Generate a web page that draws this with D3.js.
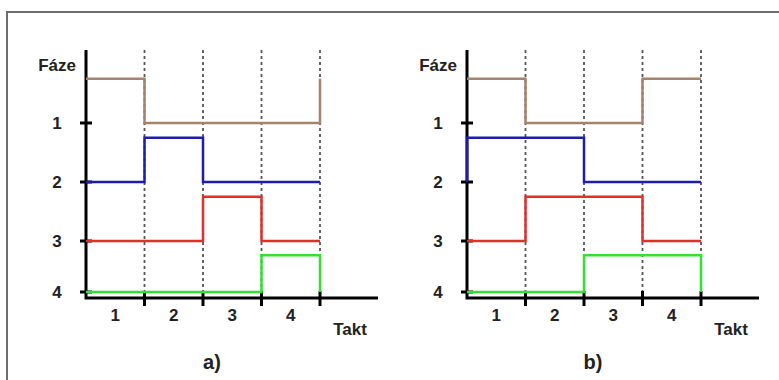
<!DOCTYPE html>
<html>
<head>
<meta charset="utf-8" />
<title>Fáze / Takt</title>
<script src="https://d3js.org/d3.v7.min.js"></script>
<style>
body { margin:0; background:#fff; }
text { font-family: "Liberation Sans", Arial, sans-serif; font-weight:bold; fill:#222; }
</style>
</head>
<body>
<div id="chart"></div>
<script>

// takt positions (cycle boundaries) and labels
var takty = [1, 2, 3, 4]
var faze = [1, 2, 3, 4]
var barvy = ["#a7826c", "#1c1cb0", "#e0302e", "#35e035"]

// each series: [entry, takt1, takt2, takt3, takt4, exit] in phase units
var a_hneda = [0.25, 0.25, 1, 1, 1, 0.25]
var a_modra = [2, 2, 1.25, 2, 2, 2]
var a_cervena = [3, 3, 3, 2.25, 3, 3]
var a_zelena = [4, 4, 4, 4, 3.28, 4]

var b_hneda = [0.25, 0.25, 1, 1, 0.25, 0.25]
var b_modra = [2, 1.25, 1.25, 2, 2, 2]
var b_cervena = [3, 3, 2.25, 2.25, 3, 3]
var b_zelena = [4, 4, 4, 3.28, 3.28, 4]

var panely = [
  {x0: 86, nazev: "a)", serie: [a_hneda, a_modra, a_cervena, a_zelena]},
  {x0: 467, nazev: "b)", serie: [b_hneda, b_modra, b_cervena, b_zelena]}
]

var W = 779, H = 380

var svg = d3.select("#chart").append("svg")
  .attr("width", W)
  .attr("height", H)

svg.append("rect").attr("width", W).attr("height", H).attr("fill", "#fff")

// outer frame (top + left only)
svg.append("path")
  .attr("d", "M7,380 L7,12 L779,12")
  .attr("fill", "none")
  .attr("stroke", "#6e6e6e")
  .attr("stroke-width", 2)

var yScale = d3.scaleLinear()
  .domain([1, 2, 3, 4])
  .range([123, 182, 241, 292])

var yTop = 50, yAxis = 298

panely.forEach(function(p) {

  var xScale = d3.scaleLinear()
    .domain([0, 4])
    .range([p.x0, p.x0 + 234])

  var g = svg.append("g")

  // dotted takt boundaries
  g.selectAll(".dot")
    .data(takty)
    .enter().append("line")
    .attr("x1", function(d) { return xScale(d) })
    .attr("x2", function(d) { return xScale(d) })
    .attr("y1", yTop)
    .attr("y2", yAxis)
    .attr("stroke", "#555")
    .attr("stroke-width", 1.8)
    .attr("stroke-dasharray", "3,3")

  // axes
  g.append("path")
    .attr("d", "M" + p.x0 + "," + yTop + " L" + p.x0 + "," + yAxis + " L" + (p.x0 + 292) + "," + yAxis)
    .attr("fill", "none")
    .attr("stroke", "#000")
    .attr("stroke-width", 3)

  // y ticks + labels
  g.selectAll(".ytick")
    .data(faze)
    .enter().append("line")
    .attr("x1", p.x0 - 6)
    .attr("x2", p.x0 + 6)
    .attr("y1", function(d) { return yScale(d) })
    .attr("y2", function(d) { return yScale(d) })
    .attr("stroke", "#000")
    .attr("stroke-width", 3)

  g.selectAll(".ylab")
    .data(faze)
    .enter().append("text")
    .text(function(d) { return d })
    .attr("x", p.x0 - 29)
    .attr("y", function(d) { return yScale(d) })
    .attr("dy", "0.36em")
    .attr("text-anchor", "middle")
    .attr("font-size", 17)

  // x ticks + labels
  g.selectAll(".xtick")
    .data(takty)
    .enter().append("line")
    .attr("x1", function(d) { return xScale(d) })
    .attr("x2", function(d) { return xScale(d) })
    .attr("y1", yAxis - 7)
    .attr("y2", yAxis + 8)
    .attr("stroke", "#000")
    .attr("stroke-width", 3)

  g.selectAll(".xlab")
    .data(takty)
    .enter().append("text")
    .text(function(d) { return d })
    .attr("x", function(d) { return xScale(d - 0.5) })
    .attr("y", 315)
    .attr("dy", "0.36em")
    .attr("text-anchor", "middle")
    .attr("font-size", 17)

  g.append("text")
    .text("Fáze")
    .attr("x", p.x0 - 10)
    .attr("y", 65)
    .attr("dy", "0.36em")
    .attr("text-anchor", "end")
    .attr("font-size", 17)

  g.append("text")
    .text("Takt")
    .attr("x", p.x0 + 264)
    .attr("y", 329)
    .attr("dy", "0.36em")
    .attr("text-anchor", "middle")
    .attr("font-size", 17)

  g.append("text")
    .text(p.nazev)
    .attr("x", p.x0 + 126)
    .attr("y", 362)
    .attr("dy", "0.36em")
    .attr("text-anchor", "middle")
    .attr("font-size", 20)

  // signal lines
  var line = d3.line()
    .x(function(d) { return xScale(d[0]) })
    .y(function(d) { return yScale(d[1]) })
    .curve(d3.curveStepAfter)

  p.serie.forEach(function(s, i) {
    var pts = s.map(function(v, j) { return [Math.max(0, j - 1), v] })
    g.append("path")
      .datum(pts)
      .attr("d", line)
      .attr("fill", "none")
      .attr("stroke", barvy[i])
      .attr("stroke-width", 2.5)
  })
})

</script>
</body>
</html>
